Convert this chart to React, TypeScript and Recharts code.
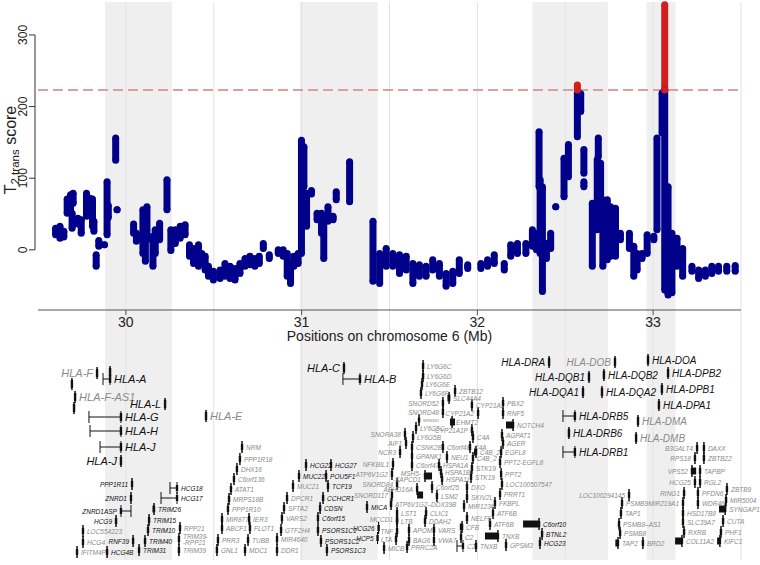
import {
  ErrorBar,
  ReferenceArea,
  ReferenceLine,
  Scatter,
  ScatterChart,
  XAxis,
  YAxis,
} from "recharts";

const FONT = "'Liberation Sans', Arial, Helvetica, sans-serif";
const NAVY = "#00008b";
const RED = "#d01f1f";
const INK = "#111";
const MUTED = "#8a8a8a";
const BAND = "#efefef";

// chromosome 6 window (Mb) and axes
const xDomain: [number, number] = [29.5, 33.5];
const xTicks = [30, 31, 32, 33];
const yDomain: [number, number] = [-84, 346];
const yTicks = [0, 100, 200, 300];
const threshold = 223;
const gridLines = [30, 30.5, 31, 31.5, 32, 32.5, 33, 33.5];
const trackDomain: [number, number] = [-4.5, 20.5];

// shaded loci [start, end] in Mb
const shadedLoci: [number, number][] = [
  [29.881, 30.262],
  [30.991, 31.433],
  [32.313, 32.742],
  [32.963, 33.127],
];

// T2,trans score: [position Mb, lowest score, highest score] per stack of SNPs
const blueColumns: number[][] = [
  [29.6, 21, 30], [29.625, 16, 33], [29.647, 18, 26], [29.666, 51, 71],
  [29.685, 56, 77], [29.7, 65, 79], [29.694, 30, 51], [29.727, 36, 44],
  [29.746, 23, 42], [29.776, 47, 79], [29.795, 58, 72], [29.81, 33, 71],
  [29.818, 26, 40], [29.831, -23, -7], [29.846, 5, 13], [29.878, 7, 7],
  [29.893, 21, 95], [29.9, 45, 62], [29.942, 125, 156], [29.95, 56, 56],
  [30.044, 23, 36], [30.06, 12, 23], [30.097, -5, 56], [30.111, -16, 47],
  [30.12, 14, 60], [30.154, -23, 19], [30.167, -5, 28], [30.192, 14, 37],
  [30.234, 56, 98], [30.256, -1, 28], [30.281, 9, 28], [30.309, 16, 33],
  [30.337, 21, 35], [30.362, -9, 7], [30.385, -19, 2], [30.413, -23, 7],
  [30.432, -19, -5], [30.451, -28, -9], [30.47, -37, -23], [30.498, -42, -30],
  [30.536, -40, -28], [30.564, -37, -19], [30.593, -40, -23], [30.621, -42, -26],
  [30.649, -33, -19], [30.678, -23, -12], [30.706, -21, -9], [30.734, -23, -12],
  [30.759, -19, -9], [30.782, 2, 9], [30.816, -12, -7], [30.867, -5, 0],
  [30.895, -9, 0], [30.918, -37, -5], [30.937, -47, -19], [30.956, -23, -9],
  [30.98, -19, -5], [30.999, -5, 153], [31.013, 88, 144], [31.028, 33, 79],
  [31.056, 78, 83], [31.088, 42, 51], [31.113, 23, 51], [31.126, -12, 42],
  [31.15, 40, 60], [31.179, 42, 47], [31.197, 70, 81], [31.273, 67, 123],
  [31.406, -44, 40], [31.444, -47, -5], [31.481, -23, 2], [31.519, -23, -5],
  [31.557, -33, -7], [31.595, -28, -9], [31.633, -47, -19], [31.67, -37, -21],
  [31.708, -37, -23], [31.746, -28, -14], [31.784, -37, -19], [31.822, -51, -33],
  [31.86, -47, -30], [31.897, -33, -14], [31.945, -26, -21], [32.02, -26, -19],
  [32.058, -23, -14], [32.096, -19, -7], [32.153, -28, -19], [32.19, -9, 7],
  [32.228, -5, 9], [32.276, -5, 9], [32.313, 5, 28], [32.336, 0, 23],
  [32.351, 88, 165], [32.357, -5, 98], [32.37, -58, 88], [32.393, -12, 9],
  [32.417, 2, 23], [32.446, 60, 60], [32.493, 74, 128], [32.518, 102, 147],
  [32.569, 158, 219], [32.588, 193, 218], [32.606, 107, 140], [32.606, 88, 95],
  [32.654, -23, 65], [32.688, 130, 156], [32.682, 28, 126], [32.701, 51, 121],
  [32.714, -23, 70], [32.739, -14, 70], [32.758, -9, 60], [32.786, -9, 58],
  [32.814, 14, 23], [32.865, 2, 23], [32.89, -37, 5], [32.909, -28, -5],
  [32.937, -12, -5], [32.966, -5, 21], [33.004, 14, 19], [33.022, 28, 156],
  [33.051, 163, 219], [33.066, -56, 223], [33.085, -63, 88], [33.107, -60, 23],
  [33.136, -23, 16], [33.168, -37, 2], [33.221, -30, -23], [33.259, -40, -28],
  [33.297, -37, -28], [33.334, -33, -23], [33.372, -30, -23], [33.419, -30, -23],
  [33.467, -30, -22],
];

// SNPs above the significance threshold
const redColumns: number[][] = [
  [32.569, 223, 230],
  [33.066, 223, 342],
];

type Gene = [string, number, number, number, string, number?];

// genes: [name, start Mb, end Mb, track, label side, non-classical flag]
const hlaClassOne: Gene[] = [
  ["HLA-F", 29.836, 29.836, 1.8, "l", 1],
  ["", 29.91, 29.91, 1.7, "r"],
  ["HLA-A", 29.87, 29.91, 2.4, "r"],
  ["", 29.693, 29.693, 2.9, "r"],
  ["HLA-F-AS1", 29.711, 29.711, 4.2, "r", 1],
  ["", 29.705, 29.705, 5.3, "r"],
  ["HLA-L", 30.223, 30.223, 4.9, "l"],
  ["HLA-G", 29.79, 29.972, 6.2, "r"],
  ["HLA-E", 30.456, 30.456, 6.1, "r", 1],
  ["HLA-H", 29.796, 29.972, 7.6, "r"],
  ["HLA-J", 29.853, 29.972, 9.2, "r"],
  ["HLA-J", 29.972, 29.972, 10.6, "l"],
  ["HLA-C", 31.241, 31.241, 1.3, "l"],
  ["HLA-B", 31.235, 31.332, 2.4, "r"],
];

const hlaClassTwo: Gene[] = [
  ["HLA-DRA", 32.408, 32.408, 0.7, "l"],
  ["HLA-DOB", 32.783, 32.783, 0.7, "l", 1],
  ["HLA-DOA", 32.971, 32.971, 0.5, "r"],
  ["HLA-DQB1", 32.635, 32.635, 2.2, "l"],
  ["HLA-DQB2", 32.72, 32.72, 2.0, "r"],
  ["HLA-DPB2", 33.085, 33.085, 1.8, "r"],
  ["HLA-DQA1", 32.601, 32.601, 3.7, "l"],
  ["HLA-DQA2", 32.709, 32.709, 3.7, "r"],
  ["HLA-DPB1", 33.05, 33.05, 3.4, "r"],
  ["HLA-DPA1", 33.033, 33.033, 5.0, "r"],
  ["HLA-DRB5", 32.487, 32.555, 6.1, "r"],
  ["HLA-DMA", 32.914, 32.914, 6.6, "r", 1],
  ["HLA-DRB6", 32.521, 32.521, 7.8, "r"],
  ["HLA-DMB", 32.903, 32.903, 8.3, "r", 1],
  ["HLA-DRB1", 32.487, 32.555, 9.7, "r"],
];

const markedGenes: Gene[] = [
  ["PPP1R11", 30.035, 30.035, 12.9, "l"],
  ["ZNRD1", 30.029, 30.029, 14.3, "l"],
  ["ZNRD1ASP", 29.972, 30.029, 15.6, "l"],
  ["HCG9", 29.944, 29.944, 16.6, "l"],
  ["RNF39", 30.041, 30.041, 18.6, "l"],
  ["HCG4B", 29.893, 29.893, 19.7, "r"],
  ["HCG18", 30.251, 30.291, 13.3, "r"],
  ["HCG17", 30.2, 30.291, 14.3, "r"],
  ["TRIM26", 30.16, 30.16, 15.4, "r"],
  ["TRIM15", 30.132, 30.132, 16.5, "r"],
  ["TRIM10", 30.126, 30.126, 17.5, "r"],
  ["TRIM40", 30.109, 30.109, 18.6, "r"],
  ["TRIM31", 30.075, 30.075, 19.5, "r"],
  ["HCG22", 31.025, 31.025, 11.0, "r"],
  ["HCG27", 31.167, 31.167, 11.0, "r"],
  ["MUC22", 30.985, 30.985, 12.1, "r"],
  ["POU5F1", 31.139, 31.139, 12.1, "r"],
  ["TCF19", 31.15, 31.15, 13.1, "r"],
  ["CCHCR1", 31.122, 31.122, 14.3, "r"],
  ["CDSN", 31.105, 31.105, 15.3, "r"],
  ["C6orf15", 31.093, 31.093, 16.3, "r"],
  ["PSORS1C1", 31.093, 31.093, 17.5, "r"],
  ["PSORS1C2", 31.11, 31.11, 18.6, "r"],
  ["PSORS1C3", 31.144, 31.144, 19.5, "r"],
  ["MICA", 31.372, 31.372, 15.2, "r"],
  ["HCG26", 31.438, 31.438, 17.3, "l"],
  ["HCP5", 31.432, 31.432, 18.3, "l"],
  ["C6orf10", 32.351, 32.351, 16.9, "r"],
  ["BTNL2", 32.368, 32.368, 17.9, "r"],
  ["HCG23", 32.356, 32.356, 18.8, "r"],
];

const otherGenes: Gene[] = [
  ["LOC554223", 29.756, 29.756, 17.6, "r"],
  ["HCG4", 29.756, 29.756, 18.7, "r"],
  ["IFITM4P", 29.722, 29.722, 19.7, "r"],
  ["RPP21", 30.308, 30.308, 17.3, "r"],
  ["TRIM39-\n-RPP21", 30.302, 30.302, 18.4, "r"],
  ["TRIM39", 30.302, 30.302, 19.5, "r"],
  ["NRM", 30.661, 30.661, 9.2, "r"],
  ["PPP1R18", 30.649, 30.649, 10.4, "r"],
  ["DHX16", 30.632, 30.632, 11.4, "r"],
  ["C6orf136", 30.615, 30.615, 12.4, "r"],
  ["ATAT1", 30.598, 30.598, 13.4, "r"],
  ["MRPS18B", 30.587, 30.587, 14.4, "r"],
  ["PPP1R10", 30.581, 30.581, 15.4, "r"],
  ["MIR877", 30.547, 30.547, 16.4, "r"],
  ["IER3", 30.701, 30.701, 16.4, "r"],
  ["ABCF1", 30.547, 30.547, 17.3, "r"],
  ["FLOT1", 30.706, 30.706, 17.3, "r"],
  ["PRR3", 30.524, 30.524, 18.5, "r"],
  ["TUBB", 30.695, 30.695, 18.5, "r"],
  ["GNL1", 30.518, 30.518, 19.5, "r"],
  ["MDC1", 30.678, 30.678, 19.5, "r"],
  ["MUC21", 30.951, 30.951, 13.1, "r"],
  ["DPCR1", 30.917, 30.917, 14.3, "r"],
  ["SFTA2", 30.9, 30.9, 15.3, "r"],
  ["VARS2", 30.888, 30.888, 16.3, "r"],
  ["GTF2H4", 30.883, 30.883, 17.5, "r"],
  ["MIR4640", 30.86, 30.86, 18.4, "r"],
  ["DDR1", 30.86, 30.86, 19.5, "r"],
  ["SNORA38", 31.588, 31.588, 7.9, "l"],
  ["AIF1", 31.594, 31.594, 8.8, "l"],
  ["NCR3", 31.56, 31.56, 9.7, "l"],
  ["NFKBIL1", 31.52, 31.52, 10.9, "l"],
  ["ATP6V1G2", 31.514, 31.514, 11.9, "l"],
  ["SNORD84", 31.543, 31.543, 12.9, "l"],
  ["SNORD117", 31.514, 31.514, 14.0, "l"],
  ["MCCD1", 31.543, 31.543, 16.4, "l"],
  ["TNF", 31.543, 31.543, 17.6, "l"],
  ["LTA", 31.537, 31.537, 18.4, "l"],
  ["MICB", 31.469, 31.469, 19.3, "r"],
  ["PRRC2A", 31.6, 31.6, 19.2, "r"],
  ["LY6G6C", 31.691, 31.691, 1.1, "r"],
  ["LY6G6D", 31.691, 31.691, 2.1, "r"],
  ["LY6G6E", 31.685, 31.685, 2.9, "r"],
  ["LY6G6F", 31.679, 31.679, 3.8, "r"],
  ["ZBTB12", 31.873, 31.873, 3.6, "r"],
  ["SLC44A4", 31.839, 31.839, 4.3, "r"],
  ["SNORD52", 31.804, 31.804, 4.8, "l"],
  ["CYP21A2", 31.969, 31.969, 5.0, "r"],
  ["PBX2", 32.146, 32.146, 4.8, "r"],
  ["SNORD48", 31.804, 31.804, 5.7, "l"],
  ["CYP21A2", 32.004, 32.004, 5.8, "l"],
  ["RNF5", 32.146, 32.146, 5.8, "r"],
  ["EHMT2", 31.856, 31.856, 6.7, "r"],
  ["LY6G5C", 31.651, 31.651, 7.3, "r"],
  ["CYP21A1P", 31.969, 31.969, 7.5, "l"],
  ["NOTCH4", 32.203, 32.203, 7.0, "r"],
  ["LY6G5B", 31.634, 31.634, 8.2, "r"],
  ["C4A", 31.975, 31.975, 8.2, "r"],
  ["AGPAT1", 32.14, 32.14, 8.0, "r"],
  ["AGER", 32.146, 32.146, 8.8, "r"],
  ["CSNK2B", 31.628, 31.628, 9.2, "r"],
  ["C6orf48", 31.804, 31.804, 9.2, "r"],
  ["C4A", 31.958, 31.958, 9.2, "r"],
  ["C4B_2", 31.992, 31.992, 9.7, "r"],
  ["EGFL8", 32.135, 32.135, 9.7, "r"],
  ["GPANK1", 31.628, 31.628, 10.1, "r"],
  ["NEU1", 31.827, 31.827, 10.2, "r"],
  ["C4B_2", 31.975, 31.975, 10.3, "r"],
  ["PPT2-EGFL8", 32.129, 32.129, 10.7, "r"],
  ["C6orf47", 31.628, 31.628, 11.0, "r"],
  ["HSPA1A", 31.782, 31.782, 11.0, "r"],
  ["STK19", 31.969, 31.969, 11.3, "r"],
  ["HSPA1B", 31.793, 31.793, 11.7, "r"],
  ["PPT2", 32.135, 32.135, 11.9, "r"],
  ["MSH5-\n-SAPCD1", 31.702, 31.702, 12.1, "l"],
  ["STK19", 31.964, 31.964, 12.2, "r"],
  ["HSPA1L", 31.799, 31.799, 12.4, "r"],
  ["LOC100507547", 32.14, 32.14, 12.9, "r"],
  ["C6orf25", 31.742, 31.742, 13.2, "r"],
  ["DXO", 31.941, 31.941, 13.2, "r"],
  ["ABHD16A", 31.657, 31.657, 13.4, "l"],
  ["PRRT1", 32.129, 32.129, 13.9, "r"],
  ["LSM2", 31.77, 31.77, 14.1, "r"],
  ["SKIV2L", 31.941, 31.941, 14.2, "r"],
  ["FKBPL", 32.1, 32.1, 14.8, "r"],
  ["ATP6V1G2\u2013DDX39B", 31.509, 31.509, 14.9, "r"],
  ["MIR1236", 31.924, 31.924, 15.1, "r"],
  ["LST1", 31.543, 31.543, 15.8, "r"],
  ["CLIC1", 31.708, 31.708, 15.8, "r"],
  ["ATF6B", 32.089, 32.089, 15.8, "r"],
  ["LTB", 31.543, 31.543, 16.6, "r"],
  ["DDAH2", 31.702, 31.702, 16.6, "r"],
  ["NELFE", 31.941, 31.941, 16.3, "r"],
  ["ATF6B", 32.072, 32.072, 16.9, "r"],
  ["APOM", 31.611, 31.611, 17.5, "r"],
  ["VARS", 31.753, 31.753, 17.5, "r"],
  ["CFB", 31.913, 31.913, 17.2, "r"],
  ["C2", 31.907, 31.907, 18.2, "r"],
  ["TNXB", 32.117, 32.117, 18.1, "r"],
  ["BAG6", 31.611, 31.611, 18.5, "r"],
  ["VWA7", 31.753, 31.753, 18.5, "r"],
  ["C2", 31.884, 31.918, 19.1, "r"],
  ["TNXB", 31.992, 31.992, 19.1, "r"],
  ["GPSM3", 32.163, 32.163, 19.0, "r"],
  ["LOC100294145", 32.863, 32.863, 14.0, "l"],
  ["PSMB9", 32.823, 32.823, 14.8, "r"],
  ["TAP1", 32.817, 32.817, 15.8, "r"],
  ["PSMB8\u2013AS1", 32.806, 32.806, 16.9, "r"],
  ["PSMB8", 32.812, 32.812, 17.8, "r"],
  ["TAP2", 32.8, 32.8, 18.8, "r"],
  ["BRD2", 32.942, 32.942, 18.8, "r"],
  ["B3GALT4", 33.25, 33.25, 9.3, "l"],
  ["DAXX", 33.289, 33.289, 9.3, "r"],
  ["RPS18", 33.238, 33.238, 10.3, "l"],
  ["ZBTB22", 33.289, 33.289, 10.3, "r"],
  ["VPS52", 33.221, 33.221, 11.6, "l"],
  ["TAPBP", 33.267, 33.267, 11.6, "r"],
  ["HCG25", 33.238, 33.238, 12.7, "l"],
  ["RGL2", 33.267, 33.267, 12.7, "r"],
  ["RING1", 33.176, 33.176, 13.8, "l"],
  ["PFDN6", 33.255, 33.255, 13.8, "r"],
  ["ZBTB9", 33.42, 33.42, 13.4, "r"],
  ["MIR5004", 33.415, 33.415, 14.5, "r"],
  ["MIR219A1", 33.17, 33.17, 14.8, "l"],
  ["WDR46", 33.255, 33.255, 14.8, "r"],
  ["SYNGAP1", 33.41, 33.41, 15.4, "r"],
  ["HSD17B8", 33.17, 33.17, 15.8, "r"],
  ["CUTA", 33.398, 33.398, 16.6, "r"],
  ["SLC39A7", 33.17, 33.17, 16.7, "r"],
  ["RXRB", 33.176, 33.176, 17.7, "r"],
  ["PHF1", 33.386, 33.386, 17.7, "r"],
  ["COL11A2", 33.164, 33.164, 18.6, "r"],
  ["KIFC1", 33.38, 33.38, 18.6, "r"],
];

const tinyGenes: Gene[] = [["MIR6891", 31.668, 31.668, 6.5, "r"]];

// wide exon blocks: [start Mb, end Mb, track]
const geneBlocks: number[][] = [
  [32.26, 32.351, 16.9],
  [32.043, 32.117, 18.1],
  [32.163, 32.203, 7.0],
  [33.375, 33.41, 15.4],
  [33.125, 33.164, 18.6],
  [33.364, 33.38, 18.6],
  [31.702, 31.742, 12.1],
  [31.657, 31.691, 14.0],
  [31.9, 31.915, 17.2],
  [31.981, 31.995, 9.7],
  [31.844, 31.873, 6.7],
  [31.83, 31.845, 4.3],
  [32.785, 32.8, 18.8],
  [30.152, 30.165, 15.4],
  [33.221, 33.245, 11.6],
];

const toColumns = (cols: number[][]) =>
  cols.map(([x, lo, hi]) => ({ x, y: lo, err: [0, hi - lo] }));

const toTops = (cols: number[][]) => cols.map(([x, , hi]) => ({ x, y: hi }));

const toGenes = (genes: Gene[], muted = false) =>
  genes.map(([name, start, end, track, side, flag]) => ({
    name,
    side,
    muted: muted || !!flag,
    x: side === "r" ? end : start,
    y: track,
    err: side === "r" ? [end - start, 0] : [0, end - start],
  }));

const blockData = geneBlocks.map(([start, end, track]) => ({
  x: start,
  y: track,
  err: [0, end - start],
}));

function dot(color: string) {
  return (p: any) => <circle cx={p.cx} cy={p.cy} r={3.5} fill={color} />;
}

function geneShape(fontSize: number, boxH: number) {
  return (p: any) => {
    const g = p.payload;
    const left = g.side === "l";
    const tx = left ? p.cx - 4 : p.cx + 4;
    const lines: string[] = g.name ? g.name.split("\n") : [];
    return (
      <g>
        <rect x={p.cx - 1.2} y={p.cy - boxH / 2} width={2.4} height={boxH} fill={INK} />
        {lines.length > 0 && (
          <text
            x={tx}
            y={p.cy}
            textAnchor={left ? "end" : "start"}
            dominantBaseline="central"
            fontSize={fontSize}
            fontStyle="italic"
            fontFamily={FONT}
            fill={g.muted ? MUTED : INK}
          >
            {lines.map((ln, i) => (
              <tspan key={i} x={tx} dy={i === 0 ? `${-(lines.length - 1) * 0.5}em` : "1em"}>
                {ln}
              </tspan>
            ))}
          </text>
        )}
      </g>
    );
  };
}

function YTick(p: any) {
  const { x, y, payload } = p;
  return (
    <g>
      <line x1={x - 9} x2={x - 3} y1={y} y2={y} stroke="#333" />
      <text
        x={x - 15}
        y={y}
        transform={`rotate(-90 ${x - 15} ${y})`}
        textAnchor="middle"
        dominantBaseline="central"
        fontSize={12}
        fontFamily={FONT}
        fill="#222"
      >
        {payload.value}
      </text>
    </g>
  );
}

function YTitle() {
  return (
    <text x={15.5} y={150} transform="rotate(-90 15.5 150)" textAnchor="middle" fontSize={16} fontFamily={FONT} fill="#222">
      T
      <tspan fontSize={11.5} dy={3}>2,trans</tspan>
      <tspan dy={-3}> score</tspan>
    </text>
  );
}

function XTitle(p: any) {
  const vb = p.viewBox;
  return (
    <text x={vb.x + vb.width / 2} y={vb.y + 31} textAnchor="middle" fontSize={14} fontFamily={FONT} fill="#222">
      Positions on chromosome 6 (Mb)
    </text>
  );
}

function Backdrop() {
  return [
    ...shadedLoci.map(([a, b]) => (
      <ReferenceArea key={`band-${a}`} x1={a} x2={b} fill={BAND} fillOpacity={1} stroke="none" />
    )),
    ...gridLines.map((g) => <ReferenceLine key={`grid-${g}`} x={g} stroke="#e2e2e2" />),
  ];
}

export default function App() {
  const geneError = (
    <ErrorBar dataKey="err" direction="x" width={6} stroke={INK} strokeWidth={1} isAnimationActive={false} />
  );
  return (
    <div style={{ position: "absolute", left: 0, top: 0, width: 760, height: 565, background: "#fff" }}>
      <div style={{ position: "absolute", left: 0, top: 310 }}>
        <ScatterChart width={760} height={250} margin={{ top: 0, right: 19, bottom: 0, left: 38 }}>
          <XAxis type="number" dataKey="x" domain={xDomain} hide />
          <YAxis type="number" dataKey="y" domain={trackDomain} reversed hide />
          {Backdrop()}
          <Scatter data={blockData} shape={() => <g />} isAnimationActive={false}>
            <ErrorBar dataKey="err" direction="x" width={0} stroke={INK} strokeWidth={7} isAnimationActive={false} />
          </Scatter>
          <Scatter data={toGenes(otherGenes, true)} shape={geneShape(6.5, 6)} isAnimationActive={false}>
            {geneError}
          </Scatter>
          <Scatter data={toGenes(tinyGenes, true)} shape={geneShape(4, 5)} isAnimationActive={false}>
            {geneError}
          </Scatter>
          <Scatter data={toGenes(markedGenes)} shape={geneShape(6.5, 6)} isAnimationActive={false}>
            {geneError}
          </Scatter>
          <Scatter data={toGenes(hlaClassOne)} shape={geneShape(11, 8)} isAnimationActive={false}>
            {geneError}
          </Scatter>
          <Scatter data={toGenes(hlaClassTwo)} shape={geneShape(10, 8)} isAnimationActive={false}>
            {geneError}
          </Scatter>
        </ScatterChart>
      </div>
      <div style={{ position: "absolute", left: 0, top: 0 }}>
        <ScatterChart width={760} height={345} margin={{ top: 2, right: 19, bottom: 0, left: 0 }}>
          <XAxis
            type="number"
            dataKey="x"
            domain={xDomain}
            ticks={xTicks}
            height={35}
            stroke="#555"
            tickSize={5}
            tick={{ fontSize: 14, fill: "#222", fontFamily: FONT }}
            label={<XTitle />}
          />
          <YAxis
            type="number"
            dataKey="y"
            domain={yDomain}
            ticks={yTicks}
            width={38}
            axisLine={false}
            tickLine={false}
            tickSize={0}
            tickMargin={0}
            tick={<YTick />}
            label={<YTitle />}
          />
          {Backdrop()}
          <ReferenceLine y={threshold} stroke="#d9a19d" strokeWidth={2} strokeDasharray="10 5" />
          <ReferenceLine
            segment={[{ x: 29.483, y: 0 }, { x: 29.483, y: 300 }]}
            stroke="#333"
            ifOverflow="visible"
          />
          <Scatter data={toColumns(blueColumns)} shape={dot(NAVY)} isAnimationActive={false}>
            <ErrorBar dataKey="err" direction="y" width={0} stroke={NAVY} strokeWidth={7} isAnimationActive={false} />
          </Scatter>
          <Scatter data={toTops(blueColumns)} shape={dot(NAVY)} isAnimationActive={false} />
          <Scatter data={toColumns(redColumns)} shape={dot(RED)} isAnimationActive={false}>
            <ErrorBar dataKey="err" direction="y" width={0} stroke={RED} strokeWidth={7} isAnimationActive={false} />
          </Scatter>
          <Scatter data={toTops(redColumns)} shape={dot(RED)} isAnimationActive={false} />
        </ScatterChart>
      </div>
    </div>
  );
}
